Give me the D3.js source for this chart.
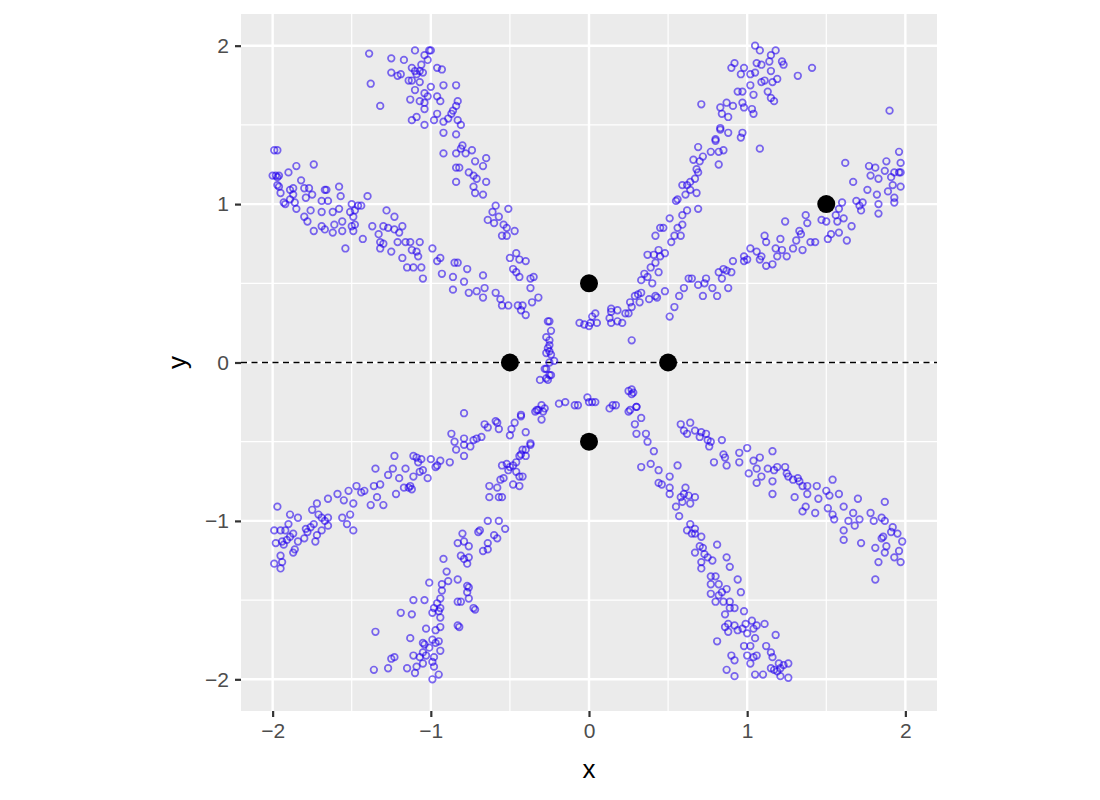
<!DOCTYPE html>
<html>
<head>
<meta charset="utf-8">
<script src="https://cdn.jsdelivr.net/npm/d3@7"></script>
<style>
  body { margin: 0; background: #fff; }
  svg { display: block; font-family: "Liberation Sans", Arial, sans-serif; }
</style>
</head>
<body>
<div id="chart"></div>
<script>
// arms of the star as [x, y]
const armUpLeftFlat = [
  [-1.99,1.34],[-1.97,1.34],[-2.0,1.18],[-1.98,1.18],[-1.97,1.17],[-1.96,1.18],[-1.97,1.12],[-1.96,1.11],
  [-1.95,1.07],[-1.93,1.01],[-1.92,1.0],[-1.9,1.2],[-1.85,1.24],[-1.74,1.25],[-1.89,1.09],[-1.87,1.1],
  [-1.87,1.06],[-1.89,1.03],[-1.86,1.01],[-1.85,0.97],[-1.82,1.15],[-1.8,1.1],[-1.77,1.1],[-1.79,1.04],
  [-1.75,1.06],[-1.76,0.96],[-1.8,0.92],[-1.78,0.89],[-1.74,0.83],[-1.69,1.02],[-1.67,1.09],[-1.66,1.09],
  [-1.65,1.02],[-1.69,0.95],[-1.69,0.86],[-1.67,0.84],[-1.62,0.95],[-1.62,0.82],[-1.58,1.11],[-1.57,1.05],
  [-1.58,0.97],[-1.61,0.87],[-1.56,0.89],[-1.56,0.83],[-1.54,0.72],[-1.51,0.95],[-1.5,1.0],[-1.49,0.92],
  [-1.5,0.86],[-1.48,0.87],[-1.49,0.83],[-1.46,0.99],[-1.44,0.99],[-1.48,0.96],[-1.43,0.78],[-1.4,1.05],
  [-1.37,0.86],[-1.33,0.81],[-1.32,0.76],[-1.32,0.72],[-1.28,0.96],[-1.3,0.86],[-1.27,0.85],[-1.3,0.75],
  [-1.25,0.7],[-1.23,0.92],[-1.23,0.84],[-1.21,0.76],[-1.2,0.82],[-1.18,0.86],[-1.18,0.66],[-1.16,0.76],
  [-1.13,0.76],[-1.15,0.6],[-1.11,0.6],[-1.12,0.71],[-1.09,0.7],[-1.07,0.76],[-1.06,0.6],[-1.05,0.53],
  [-1.08,0.67],[-0.99,0.72],[-0.96,0.64],[-0.94,0.66],[-0.93,0.56],[-0.86,0.54],[-0.86,0.46],[-0.85,0.63],
  [-0.83,0.63],[-0.79,0.51],[-0.77,0.59],[-0.76,0.44],[-0.71,0.45],[-0.67,0.41],[-0.67,0.55],[-0.66,0.47],
  [-0.59,0.44],[-0.56,0.4],[-0.55,0.36],[-0.51,0.36],[-0.45,0.36],[-0.42,0.36],[-0.43,0.33],[-0.4,0.3]
];
const armUpLeftSteep = [
  [-1.39,1.95],[-1.38,1.76],[-1.32,1.62],[-1.25,1.92],[-1.25,1.83],[-1.19,1.82],[-1.21,1.81],[-1.17,1.91],
  [-1.1,1.97],[-1.04,1.94],[-1.01,1.97],[-1.0,1.97],[-1.02,1.91],[-1.06,1.88],[-1.12,1.86],[-1.1,1.84],
  [-1.07,1.84],[-1.09,1.82],[-1.05,1.83],[-1.14,1.78],[-1.12,1.78],[-1.07,1.77],[-1.1,1.72],[-1.0,1.74],
  [-0.96,1.86],[-0.93,1.85],[-0.92,1.75],[-0.84,1.75],[-1.04,1.7],[-1.02,1.68],[-0.96,1.68],[-1.13,1.66],
  [-1.07,1.65],[-1.04,1.64],[-0.94,1.65],[-1.04,1.6],[-0.83,1.65],[-0.84,1.62],[-1.09,1.55],[-1.12,1.53],
  [-0.98,1.53],[-0.96,1.57],[-1.04,1.5],[-0.92,1.52],[-0.89,1.54],[-0.87,1.57],[-0.86,1.59],[-0.92,1.45],
  [-0.84,1.44],[-0.83,1.53],[-0.81,1.5],[-0.92,1.32],[-0.84,1.32],[-0.8,1.37],[-0.81,1.35],[-0.78,1.32],
  [-0.84,1.23],[-0.82,1.23],[-0.84,1.14],[-0.74,1.34],[-0.72,1.27],[-0.65,1.29],[-0.67,1.24],[-0.76,1.2],
  [-0.73,1.18],[-0.71,1.16],[-0.65,1.14],[-0.73,1.11],[-0.72,1.07],[-0.67,1.06],[-0.59,0.99],[-0.61,0.95],
  [-0.51,0.97],[-0.64,0.9],[-0.6,0.88],[-0.57,0.92],[-0.54,0.87],[-0.52,0.85],[-0.55,0.8],[-0.52,0.8],
  [-0.47,0.83],[-0.5,0.66],[-0.46,0.69],[-0.44,0.65],[-0.4,0.64],[-0.48,0.59],[-0.46,0.57],[-0.44,0.54],
  [-0.37,0.53],[-0.35,0.54],[-0.37,0.47],[-0.32,0.41],[-0.36,0.38]
];
const armUpRightSteep = [
  [1.05,2.0],[1.08,1.97],[1.18,1.97],[1.15,1.94],[0.92,1.89],[0.9,1.86],[0.98,1.86],[1.06,1.89],
  [1.09,1.88],[1.14,1.9],[1.22,1.9],[1.23,1.88],[1.15,1.84],[0.96,1.82],[1.02,1.82],[1.05,1.83],
  [1.09,1.77],[1.11,1.78],[1.16,1.77],[1.19,1.79],[1.32,1.81],[1.41,1.86],[1.02,1.75],[0.94,1.71],
  [0.97,1.71],[1.04,1.69],[1.13,1.71],[1.15,1.67],[1.17,1.65],[0.71,1.63],[0.83,1.61],[0.87,1.64],
  [0.91,1.62],[0.97,1.64],[0.98,1.61],[1.03,1.6],[1.04,1.57],[0.84,1.57],[0.88,1.55],[0.83,1.48],
  [0.83,1.47],[0.88,1.45],[0.97,1.45],[0.96,1.42],[1.08,1.35],[0.8,1.41],[0.8,1.4],[0.69,1.36],
  [0.77,1.33],[0.82,1.33],[0.85,1.34],[0.82,1.25],[0.66,1.28],[0.72,1.3],[0.7,1.27],[0.68,1.22],
  [0.69,1.2],[0.67,1.16],[0.64,1.14],[0.59,1.12],[0.62,1.12],[0.64,1.09],[0.68,1.07],[0.61,1.06],
  [0.55,1.02],[0.56,1.03],[0.69,0.97],[0.62,0.96],[0.59,0.93],[0.51,0.91],[0.59,0.87],[0.56,0.85],
  [0.47,0.85],[0.45,0.85],[0.42,0.8],[0.54,0.8],[0.58,0.8],[0.52,0.76],[0.48,0.69],[0.44,0.71],
  [0.37,0.68],[0.41,0.68],[0.45,0.67],[0.42,0.63],[0.39,0.6],[0.35,0.56],[0.44,0.57],[0.37,0.54],
  [0.33,0.52],[0.4,0.5],[0.48,0.45],[0.31,0.43],[0.33,0.44],[0.42,0.42],[0.43,0.41],[0.38,0.4],
  [0.32,0.38],[0.26,0.38],[0.27,0.35],[0.23,0.31],[0.18,0.33],[0.14,0.34],[0.14,0.32],[0.04,0.31],
  [0.02,0.29],[0.29,0.42]
];
const armUpRightFlat = [
  [0.51,0.29],[0.54,0.35],[0.57,0.42],[0.6,0.47],[0.63,0.53],[0.65,0.53],[0.69,0.49],[0.72,0.42],
  [0.74,0.53],[0.73,0.5],[0.78,0.47],[0.81,0.42],[0.88,0.47],[0.84,0.53],[0.82,0.57],[0.85,0.59],
  [0.87,0.58],[0.9,0.57],[0.91,0.64],[0.98,0.64],[0.98,0.67],[1.0,0.65],[1.02,0.72],[1.06,0.7],
  [1.08,0.65],[1.09,0.67],[1.12,0.61],[1.16,0.62],[1.11,0.8],[1.12,0.76],[1.18,0.72],[1.19,0.67],
  [1.21,0.78],[1.22,0.71],[1.25,0.67],[1.24,0.89],[1.29,0.72],[1.31,0.77],[1.33,0.83],[1.34,0.81],
  [1.37,0.93],[1.38,0.88],[1.35,0.71],[1.4,0.76],[1.43,0.76],[1.47,0.9],[1.5,0.89],[1.51,0.78],
  [1.53,0.81],[1.56,0.93],[1.58,0.97],[1.57,0.89],[1.58,0.82],[1.61,0.91],[1.63,0.77],[1.6,1.01],
  [1.66,0.86],[1.62,1.26],[1.67,1.14],[1.69,1.02],[1.71,0.99],[1.72,0.96],[1.73,1.01],[1.76,1.09],
  [1.77,1.24],[1.78,1.18],[1.81,1.23],[1.82,1.06],[1.83,1.0],[1.83,0.94],[1.83,1.16],[1.88,1.27],
  [1.87,1.21],[1.89,1.08],[1.9,1.59],[1.91,1.17],[1.92,1.12],[1.93,1.2],[1.93,1.04],[1.93,1.01],
  [1.96,1.33],[1.97,1.26],[1.97,1.2],[1.96,1.2],[1.97,1.11]
];
const armDownRightFlat = [
  [0.58,-0.39],[0.64,-0.38],[0.6,-0.43],[0.62,-0.45],[0.67,-0.43],[0.71,-0.44],[0.7,-0.47],[0.74,-0.45],
  [0.75,-0.49],[0.77,-0.5],[0.76,-0.53],[0.84,-0.49],[0.79,-0.63],[0.85,-0.58],[0.86,-0.6],[0.87,-0.65],
  [0.95,-0.57],[0.95,-0.63],[1.0,-0.54],[1.01,-0.7],[1.04,-0.62],[1.08,-0.6],[1.06,-0.67],[1.09,-0.72],
  [1.06,-0.76],[1.13,-0.67],[1.16,-0.56],[1.17,-0.68],[1.16,-0.75],[1.16,-0.83],[1.19,-0.66],[1.24,-0.66],
  [1.25,-0.7],[1.26,-0.72],[1.29,-0.74],[1.32,-0.73],[1.33,-0.75],[1.35,-0.78],[1.38,-0.78],[1.3,-0.85],
  [1.35,-0.94],[1.37,-0.91],[1.38,-0.83],[1.43,-0.95],[1.44,-0.78],[1.45,-0.86],[1.5,-0.81],[1.52,-0.84],
  [1.54,-0.74],[1.51,-0.92],[1.54,-0.96],[1.55,-0.99],[1.58,-0.83],[1.61,-0.91],[1.61,-1.06],[1.61,-1.12],
  [1.64,-1.0],[1.67,-0.95],[1.68,-1.03],[1.7,-0.86],[1.71,-0.99],[1.72,-1.14],[1.78,-0.95],[1.8,-1.0],
  [1.81,-1.37],[1.81,-1.17],[1.83,-1.26],[1.85,-1.11],[1.85,-0.98],[1.87,-1.0],[1.87,-0.88],[1.87,-1.2],
  [1.88,-1.16],[1.86,-1.1],[1.92,-1.04],[1.91,-1.07],[1.95,-1.08],[1.93,-1.23],[1.96,-1.19],[1.97,-1.26],
  [1.98,-1.13]
];
const armDownRightSteep = [
  [0.0,-0.25],[0.02,-0.25],[0.04,-0.25],[0.13,-0.29],[0.15,-0.27],[0.17,-0.27],[0.25,-0.18],[0.27,-0.2],
  [0.25,-0.31],[0.3,-0.28],[0.29,-0.39],[0.33,-0.35],[0.3,-0.45],[0.36,-0.45],[0.37,-0.5],[0.41,-0.56],
  [0.33,-0.66],[0.39,-0.64],[0.44,-0.68],[0.51,-0.72],[0.56,-0.65],[0.44,-0.76],[0.46,-0.77],[0.51,-0.79],
  [0.51,-0.83],[0.61,-0.79],[0.58,-0.85],[0.6,-0.83],[0.63,-0.84],[0.67,-0.85],[0.64,-0.89],[0.55,-0.91],
  [0.59,-0.88],[0.57,-0.97],[0.64,-1.02],[0.67,-1.05],[0.62,-1.06],[0.65,-1.08],[0.67,-1.08],[0.71,-1.1],
  [0.7,-1.16],[0.67,-1.2],[0.72,-1.17],[0.73,-1.21],[0.75,-1.23],[0.71,-1.26],[0.78,-1.25],[0.71,-1.3],
  [0.81,-1.15],[0.87,-1.23],[0.89,-1.29],[0.77,-1.35],[0.8,-1.35],[0.77,-1.4],[0.82,-1.4],[0.84,-1.45],
  [0.87,-1.43],[0.77,-1.46],[0.8,-1.51],[0.82,-1.47],[0.85,-1.51],[0.94,-1.37],[0.96,-1.45],[0.89,-1.51],
  [0.89,-1.55],[0.92,-1.55],[0.98,-1.57],[0.86,-1.59],[0.88,-1.65],[0.86,-1.67],[0.92,-1.66],[0.88,-1.7],
  [0.94,-1.69],[0.97,-1.68],[0.99,-1.65],[1.03,-1.63],[1.0,-1.71],[1.04,-1.68],[1.06,-1.66],[1.11,-1.65],
  [1.05,-1.74],[0.98,-1.79],[1.02,-1.79],[0.81,-1.76],[0.9,-1.85],[0.92,-1.88],[1.0,-1.85],[1.04,-1.86],
  [1.06,-1.85],[1.02,-1.9],[1.12,-1.79],[1.15,-1.83],[1.16,-1.86],[1.18,-1.72],[1.2,-1.9],[1.23,-1.91],
  [1.26,-1.9],[1.21,-1.93],[1.15,-1.93],[1.17,-1.94],[1.19,-1.95],[1.21,-1.98],[1.26,-1.99],[0.87,-1.94],
  [0.92,-1.98],[1.05,-1.97],[1.1,-1.97],[0.27,-0.17],[0.28,-0.19],[0.26,-0.3],[0.3,-0.28]
];
const armDownLeftFlat = [
  [-1.97,-0.91],[-1.99,-1.06],[-1.95,-1.06],[-1.92,-1.06],[-1.98,-1.14],[-1.94,-1.13],[-1.93,-1.15],[-1.91,-1.12],
  [-1.89,-1.1],[-1.87,-1.08],[-1.9,-1.02],[-1.89,-0.96],[-1.84,-0.98],[-1.87,-1.2],[-1.86,-1.18],[-1.95,-1.22],
  [-1.99,-1.27],[-1.94,-1.26],[-1.95,-1.3],[-1.84,-1.13],[-1.8,-1.11],[-1.79,-1.05],[-1.76,-1.04],[-1.74,-1.02],
  [-1.73,-1.13],[-1.75,-0.93],[-1.72,-0.89],[-1.71,-0.96],[-1.69,-0.98],[-1.67,-1.0],[-1.65,-1.03],[-1.65,-0.98],
  [-1.72,-1.09],[-1.69,-1.06],[-1.78,-1.07],[-1.65,-0.86],[-1.59,-0.83],[-1.56,-0.98],[-1.55,-0.87],[-1.53,-1.02],
  [-1.51,-0.96],[-1.52,-0.81],[-1.49,-1.06],[-1.49,-0.89],[-1.47,-0.78],[-1.44,-0.82],[-1.42,-0.81],[-1.38,-0.9],
  [-1.36,-0.78],[-1.35,-0.67],[-1.34,-0.85],[-1.32,-0.77],[-1.3,-0.9],[-1.27,-0.71],[-1.24,-0.67],[-1.23,-0.59],
  [-1.22,-0.83],[-1.2,-0.73],[-1.17,-0.79],[-1.16,-0.67],[-1.14,-0.79],[-1.13,-0.78],[-1.12,-0.8],[-1.11,-0.72],
  [-1.11,-0.59],[-1.09,-0.6],[-1.08,-0.63],[-1.06,-0.61],[-1.05,-0.68],[-1.07,-0.69],[-1.02,-0.73],[-1.0,-0.61],
  [-0.97,-0.66],[-0.96,-0.65],[-0.94,-0.62],[-0.88,-0.63],[-0.87,-0.45],[-0.85,-0.5],[-0.84,-0.55],[-0.79,-0.52],
  [-0.79,-0.48],[-0.79,-0.59],[-0.75,-0.53],[-0.73,-0.49],[-0.71,-0.48],[-0.68,-0.47],[-0.66,-0.39],[-0.64,-0.41],
  [-0.58,-0.38],[-0.57,-0.42],[-0.59,-0.37],[-0.5,-0.46],[-0.49,-0.42],[-0.47,-0.38],[-0.43,-0.34],[-0.4,-0.44],
  [-0.37,-0.51],[-0.79,-0.32],[-0.34,-0.31],[-0.32,-0.3],[-0.3,-0.27],[-0.29,-0.31],[-0.3,-0.36],[-0.19,-0.26],
  [-0.15,-0.25],[-0.09,-0.27],[-0.07,-0.27],[-0.01,-0.22],[-0.33,-0.3],[-0.28,-0.29],[-0.43,-0.33]
];
const armDownLeftSteep = [
  [-0.44,-0.59],[-0.42,-0.55],[-0.4,-0.55],[-0.43,-0.58],[-0.46,-0.63],[-0.4,-0.59],[-0.37,-0.52],[-0.55,-0.65],
  [-0.52,-0.64],[-0.5,-0.66],[-0.51,-0.68],[-0.48,-0.65],[-0.44,-0.72],[-0.42,-0.72],[-0.46,-0.69],[-0.48,-0.77],
  [-0.44,-0.78],[-0.54,-0.73],[-0.56,-0.74],[-0.58,-0.79],[-0.63,-0.78],[-0.63,-0.85],[-0.57,-0.85],[-0.55,-0.85],
  [-0.64,-1.0],[-0.57,-1.0],[-0.53,-1.05],[-0.69,-1.06],[-0.7,-1.07],[-0.6,-1.09],[-0.58,-1.11],[-0.64,-1.14],
  [-0.67,-1.19],[-0.64,-1.18],[-0.8,-1.08],[-0.83,-1.14],[-0.76,-1.16],[-0.79,-1.13],[-0.92,-1.24],[-0.81,-1.22],
  [-0.79,-1.24],[-0.76,-1.23],[-0.77,-1.27],[-0.9,-1.32],[-1.01,-1.39],[-0.93,-1.4],[-0.89,-1.38],[-0.83,-1.37],
  [-0.77,-1.41],[-0.76,-1.42],[-0.77,-1.45],[-0.93,-1.44],[-0.94,-1.49],[-0.96,-1.52],[-1.04,-1.5],[-1.11,-1.5],
  [-0.98,-1.55],[-0.94,-1.55],[-0.95,-1.57],[-0.94,-1.61],[-0.99,-1.58],[-0.83,-1.51],[-0.81,-1.51],[-0.76,-1.49],
  [-0.73,-1.55],[-0.72,-1.56],[-1.19,-1.58],[-1.12,-1.59],[-0.83,-1.66],[-0.82,-1.67],[-0.94,-1.67],[-1.03,-1.68],
  [-0.97,-1.69],[-1.13,-1.74],[-1.05,-1.77],[-1.04,-1.78],[-1.01,-1.8],[-0.97,-1.77],[-0.95,-1.76],[-0.94,-1.82],
  [-0.99,-1.75],[-1.05,-1.83],[-1.11,-1.85],[-1.07,-1.86],[-1.03,-1.85],[-0.98,-1.86],[-1.05,-1.9],[-0.99,-1.89],
  [-0.98,-1.92],[-1.09,-1.92],[-1.15,-1.93],[-1.1,-1.96],[-0.99,-2.0],[-0.95,-1.97],[-1.35,-1.7],[-1.36,-1.94],
  [-1.27,-1.93],[-1.25,-1.87],[-1.23,-1.86]
];
// small cluster around the origin
const centerCluster = [
  [-0.26,0.26],[-0.25,0.26],[-0.24,0.2],[-0.27,0.16],[-0.25,0.14],[-0.25,0.11],[-0.26,0.09],[-0.25,0.07],
  [-0.27,0.06],[-0.24,0.05],[-0.25,0.0],[-0.22,0.01],[-0.27,-0.04],[-0.24,-0.08],[-0.31,-0.11],[-0.26,-0.11],
  [-0.06,0.25],[-0.03,0.24],[0.0,0.23],[0.01,0.25],[0.05,0.25],[0.13,0.28],[0.14,0.25],[0.18,0.26],
  [0.21,0.25],[0.25,0.31],[0.27,0.14],[-0.27,-0.1],[-0.25,-0.08],[-0.28,-0.04]
];
// the five black reference points
const anchorX = [0, 0, -0.5, 0.5, 1.5];
const anchorY = [0.5, -0.5, 0, 0, 1];

const xTicks = [-2, -1, 0, 1, 2];
const yTicks = [-2, -1, 0, 1, 2];
const minorTicks = [-1.5, -0.5, 0.5, 1.5];

const allPoints = [].concat(armUpLeftFlat, armUpLeftSteep, armUpRightSteep, armUpRightFlat,
  armDownRightFlat, armDownRightSteep, armDownLeftFlat, armDownLeftSteep, centerCluster);

const width = 1100, height = 800;
const panel = {left: 241, right: 937, top: 14, bottom: 711};

let svg = d3.select("#chart").append("svg")
  .attr("width", width)
  .attr("height", height);

let x = d3.scaleLinear().domain([-2.2, 2.2]).range([panel.left, panel.right]);
let y = d3.scaleLinear().domain([-2.2, 2.2]).range([panel.bottom, panel.top]);

// panel background
svg.append("rect")
  .attr("x", panel.left).attr("y", panel.top)
  .attr("width", panel.right - panel.left)
  .attr("height", panel.bottom - panel.top)
  .attr("fill", "#EBEBEB");

let grid = svg.append("g");
// minor grid
grid.selectAll(".vmin").data(minorTicks).enter().append("line")
  .attr("x1", d => x(d)).attr("x2", d => x(d))
  .attr("y1", panel.top).attr("y2", panel.bottom)
  .attr("stroke", "#fff").attr("stroke-width", 1.2);
grid.selectAll(".hmin").data(minorTicks).enter().append("line")
  .attr("y1", d => y(d)).attr("y2", d => y(d))
  .attr("x1", panel.left).attr("x2", panel.right)
  .attr("stroke", "#fff").attr("stroke-width", 1.2);
// major grid
grid.selectAll(".vmaj").data(xTicks).enter().append("line")
  .attr("x1", d => x(d)).attr("x2", d => x(d))
  .attr("y1", panel.top).attr("y2", panel.bottom)
  .attr("stroke", "#fff").attr("stroke-width", 2.4);
grid.selectAll(".hmaj").data(yTicks).enter().append("line")
  .attr("y1", d => y(d)).attr("y2", d => y(d))
  .attr("x1", panel.left).attr("x2", panel.right)
  .attr("stroke", "#fff").attr("stroke-width", 2.4);

// dashed line at y = 0
svg.append("line")
  .attr("x1", panel.left).attr("x2", panel.right)
  .attr("y1", y(0)).attr("y2", y(0))
  .attr("stroke", "#000").attr("stroke-width", 1.4)
  .attr("stroke-dasharray", "6,4.5");

// hollow points
svg.append("g").selectAll("circle")
  .data(allPoints)
  .enter().append("circle")
  .attr("cx", d => x(d[0]))
  .attr("cy", d => y(d[1]))
  .attr("r", 3.3)
  .attr("fill", "none")
  .attr("stroke", "#2200ee")
  .attr("stroke-opacity", 0.58)
  .attr("stroke-width", 1.7);

// black points
svg.append("g").selectAll("circle")
  .data(anchorX)
  .enter().append("circle")
  .attr("cx", d => x(d))
  .attr("cy", (d, i) => y(anchorY[i]))
  .attr("r", 9)
  .attr("fill", "#000");

// axes
const fmt = d => d < 0 ? "\u2212" + Math.abs(d) : String(d);

let xAxis = svg.append("g")
  .attr("transform", `translate(0,${panel.bottom})`)
  .call(d3.axisBottom(x).tickValues(xTicks).tickFormat(fmt).tickSize(6).tickPadding(6));
let yAxis = svg.append("g")
  .attr("transform", `translate(${panel.left},0)`)
  .call(d3.axisLeft(y).tickValues(yTicks).tickFormat(fmt).tickSize(6).tickPadding(6));

[xAxis, yAxis].forEach(a => {
  a.select(".domain").remove();
  a.selectAll(".tick line").attr("stroke", "#333").attr("stroke-width", 2.2);
  a.selectAll(".tick text")
    .attr("fill", "#4D4D4D")
    .style("font-size", "21px")
    .style("font-family", "Liberation Sans, Arial, sans-serif");
});

// axis titles
svg.append("text")
  .attr("x", (panel.left + panel.right) / 2)
  .attr("y", 778)
  .attr("text-anchor", "middle")
  .style("font-size", "26px")
  .text("x");
svg.append("text")
  .attr("transform", `translate(186,${(panel.top + panel.bottom) / 2}) rotate(-90)`)
  .attr("text-anchor", "middle")
  .style("font-size", "26px")
  .text("y");
</script>
</body>
</html>
